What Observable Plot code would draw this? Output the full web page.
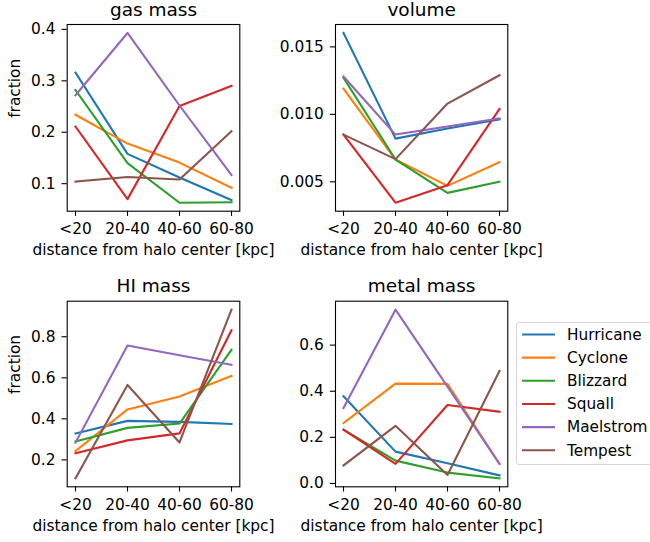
<!DOCTYPE html>
<html>
<head>
<meta charset="utf-8">
<script src="https://cdn.jsdelivr.net/npm/d3@7"></script>
<script src="https://cdn.jsdelivr.net/npm/@observablehq/plot@0.6"></script>
<style>
  html, body { margin: 0; padding: 0; background: #fff; overflow: hidden; }
  #root { position: relative; width: 650px; height: 542px; overflow: hidden; font-family: "DejaVu Sans", sans-serif; }
  .panel { position: absolute; }
</style>
</head>
<body>
<div id="root"></div>
<script>
const categories = ["<20", "20-40", "40-60", "60-80"];
const seriesNames = ["Hurricane", "Cyclone", "Blizzard", "Squall", "Maelstrom", "Tempest"];
const seriesColors = ["#1f77b4", "#ff7f0e", "#2ca02c", "#d62728", "#9467bd", "#8c564b"];

const gasMass = [
  [0.316, 0.158, 0.112, 0.068],
  [0.234, 0.178, 0.141, 0.092],
  [0.282, 0.140, 0.063, 0.064],
  [0.211, 0.070, 0.251, 0.290],
  [0.272, 0.393, 0.252, 0.117],
  [0.104, 0.113, 0.108, 0.202]
];
const volume = [
  [0.01603, 0.00820, 0.00895, 0.00963],
  [0.01190, 0.00665, 0.00470, 0.00645],
  [0.01270, 0.00665, 0.00418, 0.00500],
  [0.00850, 0.00345, 0.00475, 0.01040],
  [0.01280, 0.00850, 0.00910, 0.00970],
  [0.00850, 0.00668, 0.01080, 0.01290]
];
const hiMass = [
  [0.329, 0.390, 0.385, 0.375],
  [0.243, 0.446, 0.509, 0.609],
  [0.290, 0.356, 0.377, 0.737],
  [0.232, 0.295, 0.329, 0.832],
  [0.284, 0.757, 0.710, 0.663],
  [0.110, 0.565, 0.285, 0.932]
];
const metalMass = [
  [0.378, 0.138, 0.088, 0.035],
  [0.262, 0.433, 0.432, 0.085],
  [0.233, 0.099, 0.047, 0.022],
  [0.233, 0.085, 0.340, 0.311],
  [0.327, 0.754, 0.420, 0.085],
  [0.078, 0.250, 0.037, 0.488]
];

const titles = ["gas mass", "volume", "HI mass", "metal mass"];
const yTicks = [[0.1, 0.2, 0.3, 0.4], [0.005, 0.010, 0.015], [0.2, 0.4, 0.6, 0.8], [0.0, 0.2, 0.4, 0.6]];
const yFormats = [".1f", ".3f", ".1f", ".1f"];
const xLabel = "distance from halo center [kpc]";
const yLabel = "fraction";

const root = document.getElementById("root");
const FS = 15.4, TFS = 18.5;

function makePanel(values, title, ticks, fmt, showYLabel, box) {
  const data = [];
  seriesNames.forEach((s, i) => categories.forEach((c, j) => data.push({series: s, cat: c, v: values[i][j]})));
  const ext = d3.extent(data, d => d.v);
  const m = (ext[1] - ext[0]) * 0.05;
  const tickLen = 5.2;
  const marks = [
    Plot.line(data, {x: "cat", y: "v", z: "series", stroke: "series", strokeWidth: 2.1, strokeLinejoin: "round", strokeLinecap: "square"}),
    Plot.frame({stroke: "#000", strokeWidth: 1.1}),
    Plot.axisX({tickSize: tickLen, tickPadding: 7, label: null, fontSize: FS, stroke: "#000", strokeWidth: 1.1, fill: "#000"}),
    Plot.axisY({ticks: ticks, tickFormat: d3.format(fmt), tickSize: tickLen, tickPadding: 6.5, label: null, fontSize: FS, stroke: "#000", strokeWidth: 1.1, fill: "#000"}),
    Plot.text([title], {text: d => d, frameAnchor: "top", dy: -9, lineAnchor: "bottom", fontSize: TFS, fill: "#000"}),
    Plot.text([xLabel], {text: d => d, frameAnchor: "bottom", dy: 33, lineAnchor: "top", fontSize: FS, fill: "#000"})
  ];
  if (showYLabel) {
    marks.push(Plot.text([yLabel], {text: d => d, frameAnchor: "left", dx: -52, rotate: -90, fontSize: FS, fill: "#000"}));
  }
  const svg = Plot.plot({
    width: box.w, height: box.h,
    marginLeft: box.mL, marginRight: box.mR, marginTop: box.mT, marginBottom: box.mB,
    style: {fontFamily: "DejaVu Sans, sans-serif", fontSize: FS + "px", overflow: "visible", background: "transparent", color: "#000"},
    x: {type: "point", domain: categories, padding: 0.15},
    y: {domain: [ext[0] - m, ext[1] + m]},
    color: {domain: seriesNames, range: seriesColors},
    marks
  });
  svg.classList.add("panel");
  svg.style.left = box.x + "px";
  svg.style.top = box.y + "px";
  root.appendChild(svg);
}

const boxes = [
  {x: 0,   y: 0,   w: 260, h: 270, mL: 66.7, mR: 20.7, mT: 24,   mB: 59.3},
  {x: 260, y: 0,   w: 260, h: 270, mL: 75,   mR: 12.7, mT: 24,   mB: 59.3},
  {x: 0,   y: 270, w: 260, h: 272, mL: 66.7, mR: 20.7, mT: 30.7, mB: 55.7},
  {x: 260, y: 270, w: 260, h: 272, mL: 75,   mR: 12.7, mT: 30.7, mB: 55.7}
];
const allValues = [gasMass, volume, hiMass, metalMass];
allValues.forEach((vals, k) => makePanel(vals, titles[k], yTicks[k], yFormats[k], k % 2 === 0, boxes[k]));

// Legend
const leg = d3.select(root).append("div")
  .style("position", "absolute").style("left", "516px").style("top", "322px")
  .style("width", "160px").style("height", "141px")
  .style("border", "1px solid #d6d6d6").style("border-radius", "3px").style("background", "rgba(255,255,255,0.8)");
const lsvg = leg.append("svg").attr("width", 160).attr("height", 141)
  .style("position", "absolute").style("left", "0px").style("top", "0px")
  .style("font-family", "DejaVu Sans, sans-serif").style("font-size", "15.3px");
seriesNames.forEach((s, i) => {
  const cy = 11.5 + i * 23.15;
  lsvg.append("line").attr("x1", 5).attr("x2", 38).attr("y1", cy).attr("y2", cy)
    .attr("stroke", seriesColors[i]).attr("stroke-width", 2.1);
  lsvg.append("text").attr("x", 50).attr("y", cy).attr("dy", "0.35em").attr("fill", "#000").text(s);
});
</script>
</body>
</html>
